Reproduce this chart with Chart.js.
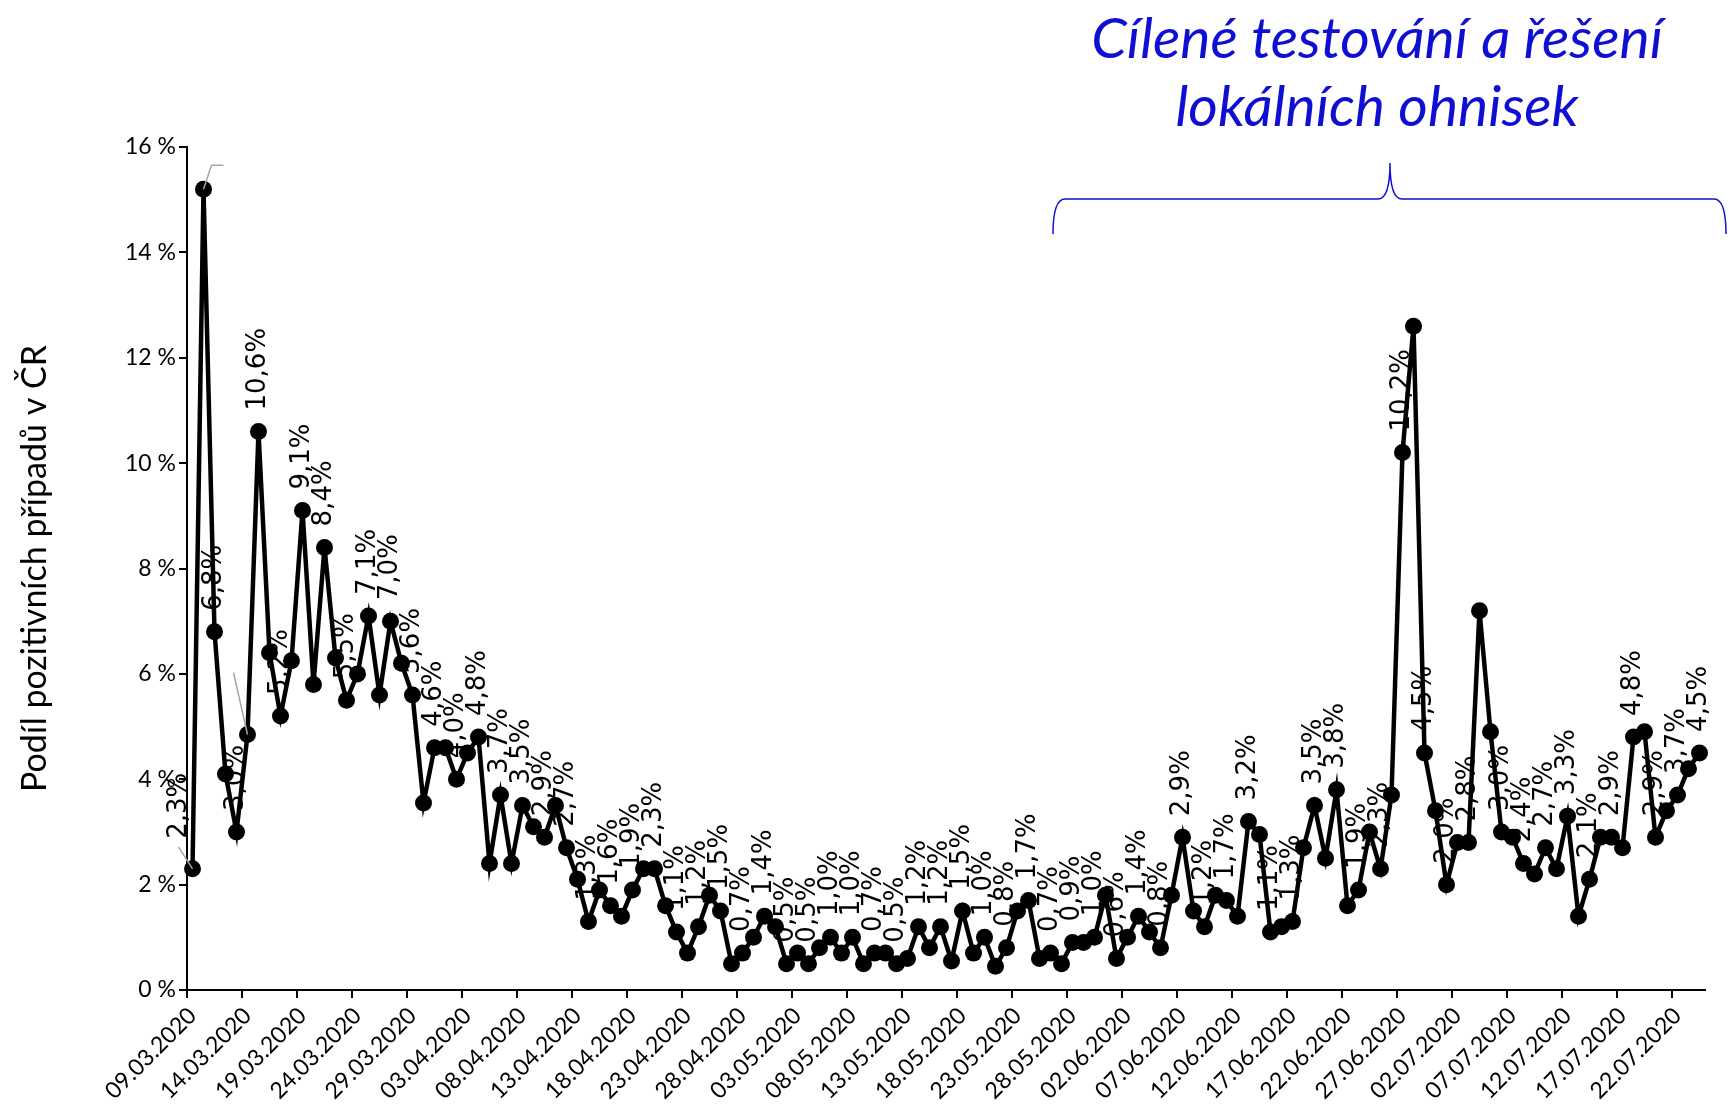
<!DOCTYPE html>
<html>
<head>
<meta charset="utf-8">
<script src="https://cdn.jsdelivr.net/npm/chart.js@4.4.1/dist/chart.umd.min.js"></script>
<style>
  html, body { margin: 0; padding: 0; background: #fff; }
  canvas { display: block; }
</style>
</head>
<body>
<canvas id="chart" width="1729" height="1117"></canvas>
<script>
// podíl pozitivních testů, denně od 09.03.2020
var values = [
  2.3, 15.2, 6.8, 4.1, 3.0, 4.85, 10.6, 6.4, 5.2, 6.25,
  9.1, 5.8, 8.4, 6.3, 5.5, 6.0, 7.1, 5.6, 7.0, 6.2,
  5.6, 3.55, 4.6, 4.6, 4.0, 4.5, 4.8, 2.4, 3.7, 2.4,
  3.5, 3.1, 2.9, 3.5, 2.7, 2.1, 1.3, 1.9, 1.6, 1.4,
  1.9, 2.3, 2.3, 1.6, 1.1, 0.7, 1.2, 1.8, 1.5, 0.5,
  0.7, 1.0, 1.4, 1.2, 0.5, 0.7, 0.5, 0.8, 1.0, 0.7,
  1.0, 0.5, 0.7, 0.7, 0.5, 0.6, 1.2, 0.8, 1.2, 0.55,
  1.5, 0.7, 1.0, 0.45, 0.8, 1.5, 1.7, 0.6, 0.7, 0.5,
  0.9, 0.9, 1.0, 1.8, 0.6, 1.0, 1.4, 1.1, 0.8, 1.8,
  2.9, 1.5, 1.2, 1.8, 1.7, 1.4, 3.2, 2.95, 1.1, 1.2,
  1.3, 2.7, 3.5, 2.5, 3.8, 1.6, 1.9, 3.0, 2.3, 3.7,
  10.2, 12.6, 4.5, 3.4, 2.0, 2.8, 2.8, 7.2, 4.9, 3.0,
  2.9, 2.4, 2.2, 2.7, 2.3, 3.3, 1.4, 2.1, 2.9, 2.9,
  2.7, 4.8, 4.9, 2.9, 3.4, 3.7, 4.2, 4.5
];

// popisky os
var dates = [];
for (var i = 0; i < values.length; i++) {
  var d = new Date(2020, 2, 9 + i);
  dates.push(String(d.getDate()).padStart(2, '0') + '.' + String(d.getMonth() + 1).padStart(2, '0') + '.' + d.getFullYear());
}
var yTicks = [0, 2, 4, 6, 8, 10, 12, 14, 16];

// které body mají popisek hodnoty
var labeled = values.map(function (v, i) {
  return i <= 116 ? i % 2 === 0 : (i >= 119 && i % 2 === 1);
});

var titleLines = ['Cílené testování a řešení', 'lokálních ohnisek'];
var blue = '#0f0fd4';

// bílé pozadí
var bgPlugin = {
  id: 'bg',
  beforeDraw: function (chart) {
    var c = chart.ctx;
    c.save();
    c.fillStyle = '#fff';
    c.fillRect(0, 0, chart.width, chart.height);
    c.restore();
  }
};

// svislé popisky hodnot + vodicí čáry
var labelPlugin = {
  id: 'valueLabels',
  afterDatasetsDraw: function (chart) {
    var c = chart.ctx;
    var pts = chart.getDatasetMeta(0).data;

    // šedé vodicí čáry u přesunutých popisků
    c.save();
    c.strokeStyle = '#a6a6a6';
    c.lineWidth = 1.5;
    c.beginPath();
    c.moveTo(pts[0].x, pts[0].y);
    c.lineTo(pts[0].x - 14, pts[0].y - 22);
    c.moveTo(pts[1].x, pts[1].y);
    c.lineTo(pts[1].x + 8, pts[1].y - 24);
    c.lineTo(pts[1].x + 20, pts[1].y - 24);
    c.moveTo(pts[5].x, pts[5].y);
    c.lineTo(pts[5].x - 14, pts[5].y - 62);
    c.stroke();
    c.restore();

    c.save();
    c.fillStyle = '#000';
    c.font = '26px "DejaVu Sans"';
    c.textAlign = 'left';
    c.textBaseline = 'middle';
    pts.forEach(function (p, i) {
      if (!labeled[i]) return;
      var txt = values[i].toFixed(1).replace('.', ',') + '%';
      var dx = 0, gap = 21;
      if (i === 0) { dx = -13; gap = 30; }
      c.save();
      c.translate(p.x + dx, p.y - gap);
      c.rotate(-Math.PI / 2);
      c.fillText(txt, 0, 0);
      c.restore();
    });
    c.restore();
  }
};

// modrý nadpis a složená závorka
var notePlugin = {
  id: 'note',
  afterDraw: function (chart) {
    var c = chart.ctx;
    c.save();
    c.fillStyle = blue;
    c.font = 'italic 57px Lato';
    c.textAlign = 'center';
    c.textBaseline = 'alphabetic';
    c.fillText(titleLines[0], 1377, 58);
    c.fillText(titleLines[1], 1377, 126);

    var x0 = 1053, x1 = 1726, xc = 1390, yH = 199, yE = 234, yT = 163, r = 12;
    c.strokeStyle = blue;
    c.lineWidth = 1.5;
    c.beginPath();
    c.moveTo(x0, yE);
    c.quadraticCurveTo(x0, yH, x0 + r, yH);
    c.lineTo(xc - r, yH);
    c.quadraticCurveTo(xc, yH, xc, yT);
    c.quadraticCurveTo(xc, yH, xc + r, yH);
    c.lineTo(x1 - r, yH);
    c.quadraticCurveTo(x1, yH, x1, yE);
    c.stroke();
    c.restore();
  }
};

var ctx = document.getElementById('chart').getContext('2d');
new Chart(ctx, {
  type: 'line',
  data: {
    labels: dates,
    datasets: [{
      data: values,
      borderColor: '#000',
      borderWidth: 4.5,
      pointRadius: 8.5,
      pointBackgroundColor: '#000',
      pointBorderColor: '#000',
      pointBorderWidth: 0,
      tension: 0,
      clip: false
    }]
  },
  options: {
    responsive: false,
    animation: false,
    devicePixelRatio: 1,
    layout: { padding: { top: 147, right: 24, left: 0, bottom: 0 } },
    plugins: {
      legend: { display: false },
      tooltip: { enabled: false }
    },
    scales: {
      x: {
        offset: true,
        grid: {
          offset: true,
          drawOnChartArea: false,
          drawTicks: true,
          tickLength: 8,
          lineWidth: 2,
          color: function (c) { return c.index % 5 === 0 ? '#000' : 'rgba(0,0,0,0)'; }
        },
        border: { color: '#000', width: 2 },
        ticks: {
          autoSkip: false,
          minRotation: 45,
          maxRotation: 45,
          padding: 4,
          color: '#000',
          font: { family: 'Lato', size: 23 },
          callback: function (v, i) { return i % 5 === 0 ? dates[i] : ''; }
        },
        afterFit: function (s) { s.height = 127; }
      },
      y: {
        min: 0,
        max: 16,
        afterBuildTicks: function (s) { s.ticks = yTicks.map(function (v) { return { value: v }; }); },
        grid: { drawOnChartArea: false, tickLength: 8, lineWidth: 2, color: '#000' },
        border: { color: '#000', width: 2 },
        ticks: {
          color: '#000',
          padding: 3,
          font: { family: 'Lato', size: 23 },
          callback: function (v) { return v + ' %'; }
        },
        title: {
          display: true,
          text: 'Podíl pozitivních případů v ČR',
          color: '#000',
          font: { family: 'Lato', size: 34 },
          padding: { top: 15, bottom: 0 }
        },
        afterFit: function (s) { s.width = 187; }
      }
    }
  },
  plugins: [bgPlugin, labelPlugin, notePlugin]
});
</script>
</body>
</html>
